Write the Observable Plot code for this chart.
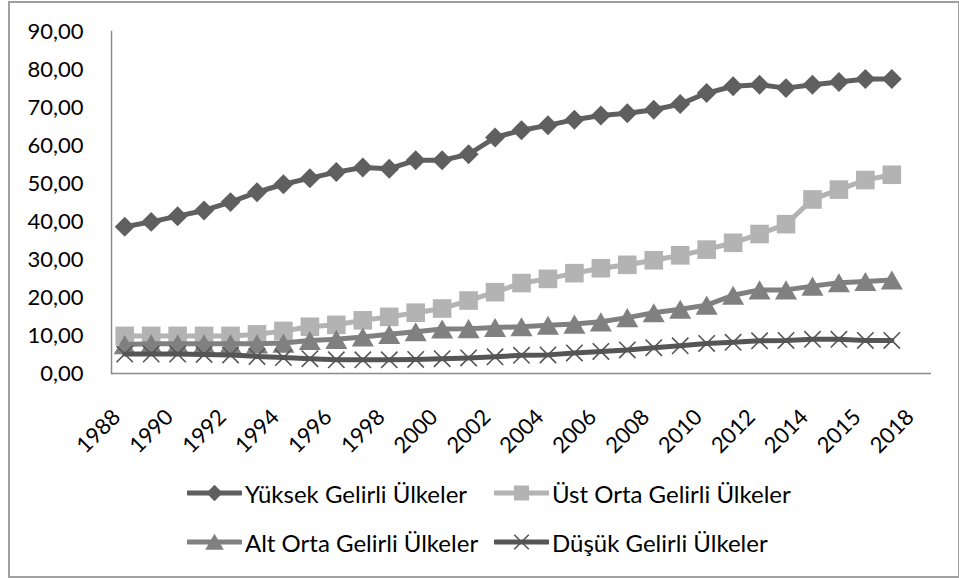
<!DOCTYPE html>
<html><head><meta charset="utf-8">
<script src="https://cdn.jsdelivr.net/npm/d3@7"></script>
<script src="https://cdn.jsdelivr.net/npm/@observablehq/plot@0.6"></script>
<style>
body{margin:0;background:#fff;font-family:Lato,sans-serif;}
#wrap{position:relative;width:959px;height:578px;overflow:hidden;background:#fff;}
#border{position:absolute;left:8px;top:1px;width:948px;height:573px;border:2px solid #a0a0a0;}
#chart{position:absolute;left:0;top:0;}
.leg{position:absolute;height:30px;display:flex;align-items:center;font-size:24px;color:#000;white-space:nowrap;}
.leg svg{margin-right:3px;flex:none;}
</style></head><body>
<div id="wrap"><div id="border"></div><div id="chart"></div><div id="legend"></div></div>
<script>
const years = ["1988","1989","1990","1991","1992","1993","1994","1995","1996","1997","1998","1999","2000","2001","2002","2003","2004","2005","2006","2007","2008","2009","2010","2011","2012","2013","2014","2015","2015","2017","2018"];
const yuksek = [38.6,39.9,41.4,42.9,45.1,47.7,49.8,51.4,53.0,54.2,53.9,56.1,56.1,57.7,62.1,64.0,65.3,66.8,67.9,68.5,69.4,70.9,73.8,75.6,76.0,75.1,76.0,76.7,77.5,77.5];
const ustOrta = [9.9,9.9,9.9,9.9,9.9,10.3,11.2,12.3,12.8,14.0,14.9,16.0,17.1,19.2,21.4,23.8,24.9,26.4,27.7,28.6,29.8,31.1,32.6,34.4,36.7,39.3,45.8,48.4,50.9,52.3];
const altOrta = [7.6,7.8,7.8,7.8,7.8,7.8,8.0,8.7,9.0,9.6,10.3,11.0,11.7,11.8,12.1,12.3,12.7,13.0,13.6,14.7,16.0,16.9,18.0,20.6,22.0,22.0,23.0,23.9,24.2,24.6];
const dusuk = [5.1,5.1,5.1,5.0,4.9,4.5,4.2,3.9,3.6,3.6,3.6,3.7,3.9,4.1,4.4,4.8,4.9,5.4,5.8,6.2,6.8,7.3,7.9,8.2,8.6,8.7,9.0,9.0,8.7,8.7];
const seriesNames = ["Yüksek Gelirli Ülkeler","Üst Orta Gelirli Ülkeler","Alt Orta Gelirli Ülkeler","Düşük Gelirli Ülkeler"];
const yTicks = [0,10,20,30,40,50,60,70,80,90];

const styles = [
  {values: yuksek, color: "#5f5f5f", symbol: "diamond2", r: 9, d3sym: d3.symbolDiamond2, lsize: 170, dy: 0},
  {values: ustOrta, color: "#b3b3b3", symbol: "square", r: 10.5, d3sym: d3.symbolSquare, lsize: 225, dy: 0},
  {values: altOrta, color: "#808080", symbol: "triangle", r: 8.2, d3sym: d3.symbolTriangle, lsize: 150, dy: 3.2},
  {values: dusuk, color: "#555555", symbol: "times", r: 7.5, d3sym: d3.symbolTimes, lsize: 140, dy: 0, stroked: true}
];

const rows = [];
seriesNames.forEach((name, s) => styles[s].values.forEach((v, i) => rows.push({series: name, i, v})));

const fmt = d => d.toFixed(2).replace(".", ",");
const evenIdx = d3.range(0, years.length, 2);

const marks = [
  Plot.frame({anchor: "left", stroke: "#8a8a8a", strokeWidth: 1.5}),
  Plot.ruleY([0], {stroke: "#8a8a8a", strokeWidth: 1.5}),
  Plot.axisY({ticks: yTicks, tickFormat: fmt, tickSize: 0, tickPadding: 28, fontSize: 22, label: null}),
  Plot.axisX({ticks: evenIdx, tickFormat: i => years[i], tickRotate: -45, tickSize: 0, tickPadding: 34, dx: -8, dy: 6, fontSize: 22, label: null})
];
seriesNames.forEach((name, s) => {
  const st = styles[s];
  const data = rows.filter(r => r.series === name);
  marks.push(Plot.line(data, {x: "i", y: "v", stroke: st.color, strokeWidth: 5, strokeLinejoin: "round"}));
  if (st.stroked) {
    marks.push(Plot.dot(data, {x: "i", y: "v", symbol: st.symbol, r: st.r, stroke: st.color, strokeWidth: 1.6, fill: "none"}));
  } else {
    marks.push(Plot.dot(data, {x: "i", y: "v", symbol: st.symbol, r: st.r, fill: st.color, stroke: "none", dy: st.dy}));
  }
});

const plot = Plot.plot({
  width: 959, height: 470,
  marginLeft: 111, marginRight: 28, marginTop: 31, marginBottom: 97,
  style: {fontFamily: "Lato, sans-serif", fontSize: "22px", color: "#000", background: "transparent", overflow: "visible"},
  x: {type: "point", domain: d3.range(years.length), padding: 0.5, round: false, axis: null, label: null},
  y: {domain: [0, 90], axis: null, label: null},
  marks
});
document.getElementById("chart").appendChild(plot);

// legend
const legendPos = [[187, 493], [494, 493], [187, 542], [494, 542]];
const legend = document.getElementById("legend");
seriesNames.forEach((name, s) => {
  const st = styles[s];
  const div = document.createElement("div");
  div.className = "leg";
  div.style.left = legendPos[s][0] + "px";
  div.style.top = (legendPos[s][1] - 15) + "px";
  const svg = d3.create("svg").attr("width", 55).attr("height", 24);
  svg.append("line").attr("x1", 1).attr("x2", 54).attr("y1", 12).attr("y2", 12)
    .attr("stroke", st.color).attr("stroke-width", 5).attr("stroke-linecap", "round");
  const p = svg.append("path").attr("d", d3.symbol(st.d3sym, st.lsize)())
    .attr("transform", `translate(27.5,${12 + (st.dy ? 2.5 : 0)})`);
  if (st.stroked) p.attr("fill", "none").attr("stroke", st.color).attr("stroke-width", 1.6);
  else p.attr("fill", st.color);
  div.appendChild(svg.node());
  const span = document.createElement("span");
  span.textContent = name;
  div.appendChild(span);
  legend.appendChild(div);
});
</script>
</body></html>
